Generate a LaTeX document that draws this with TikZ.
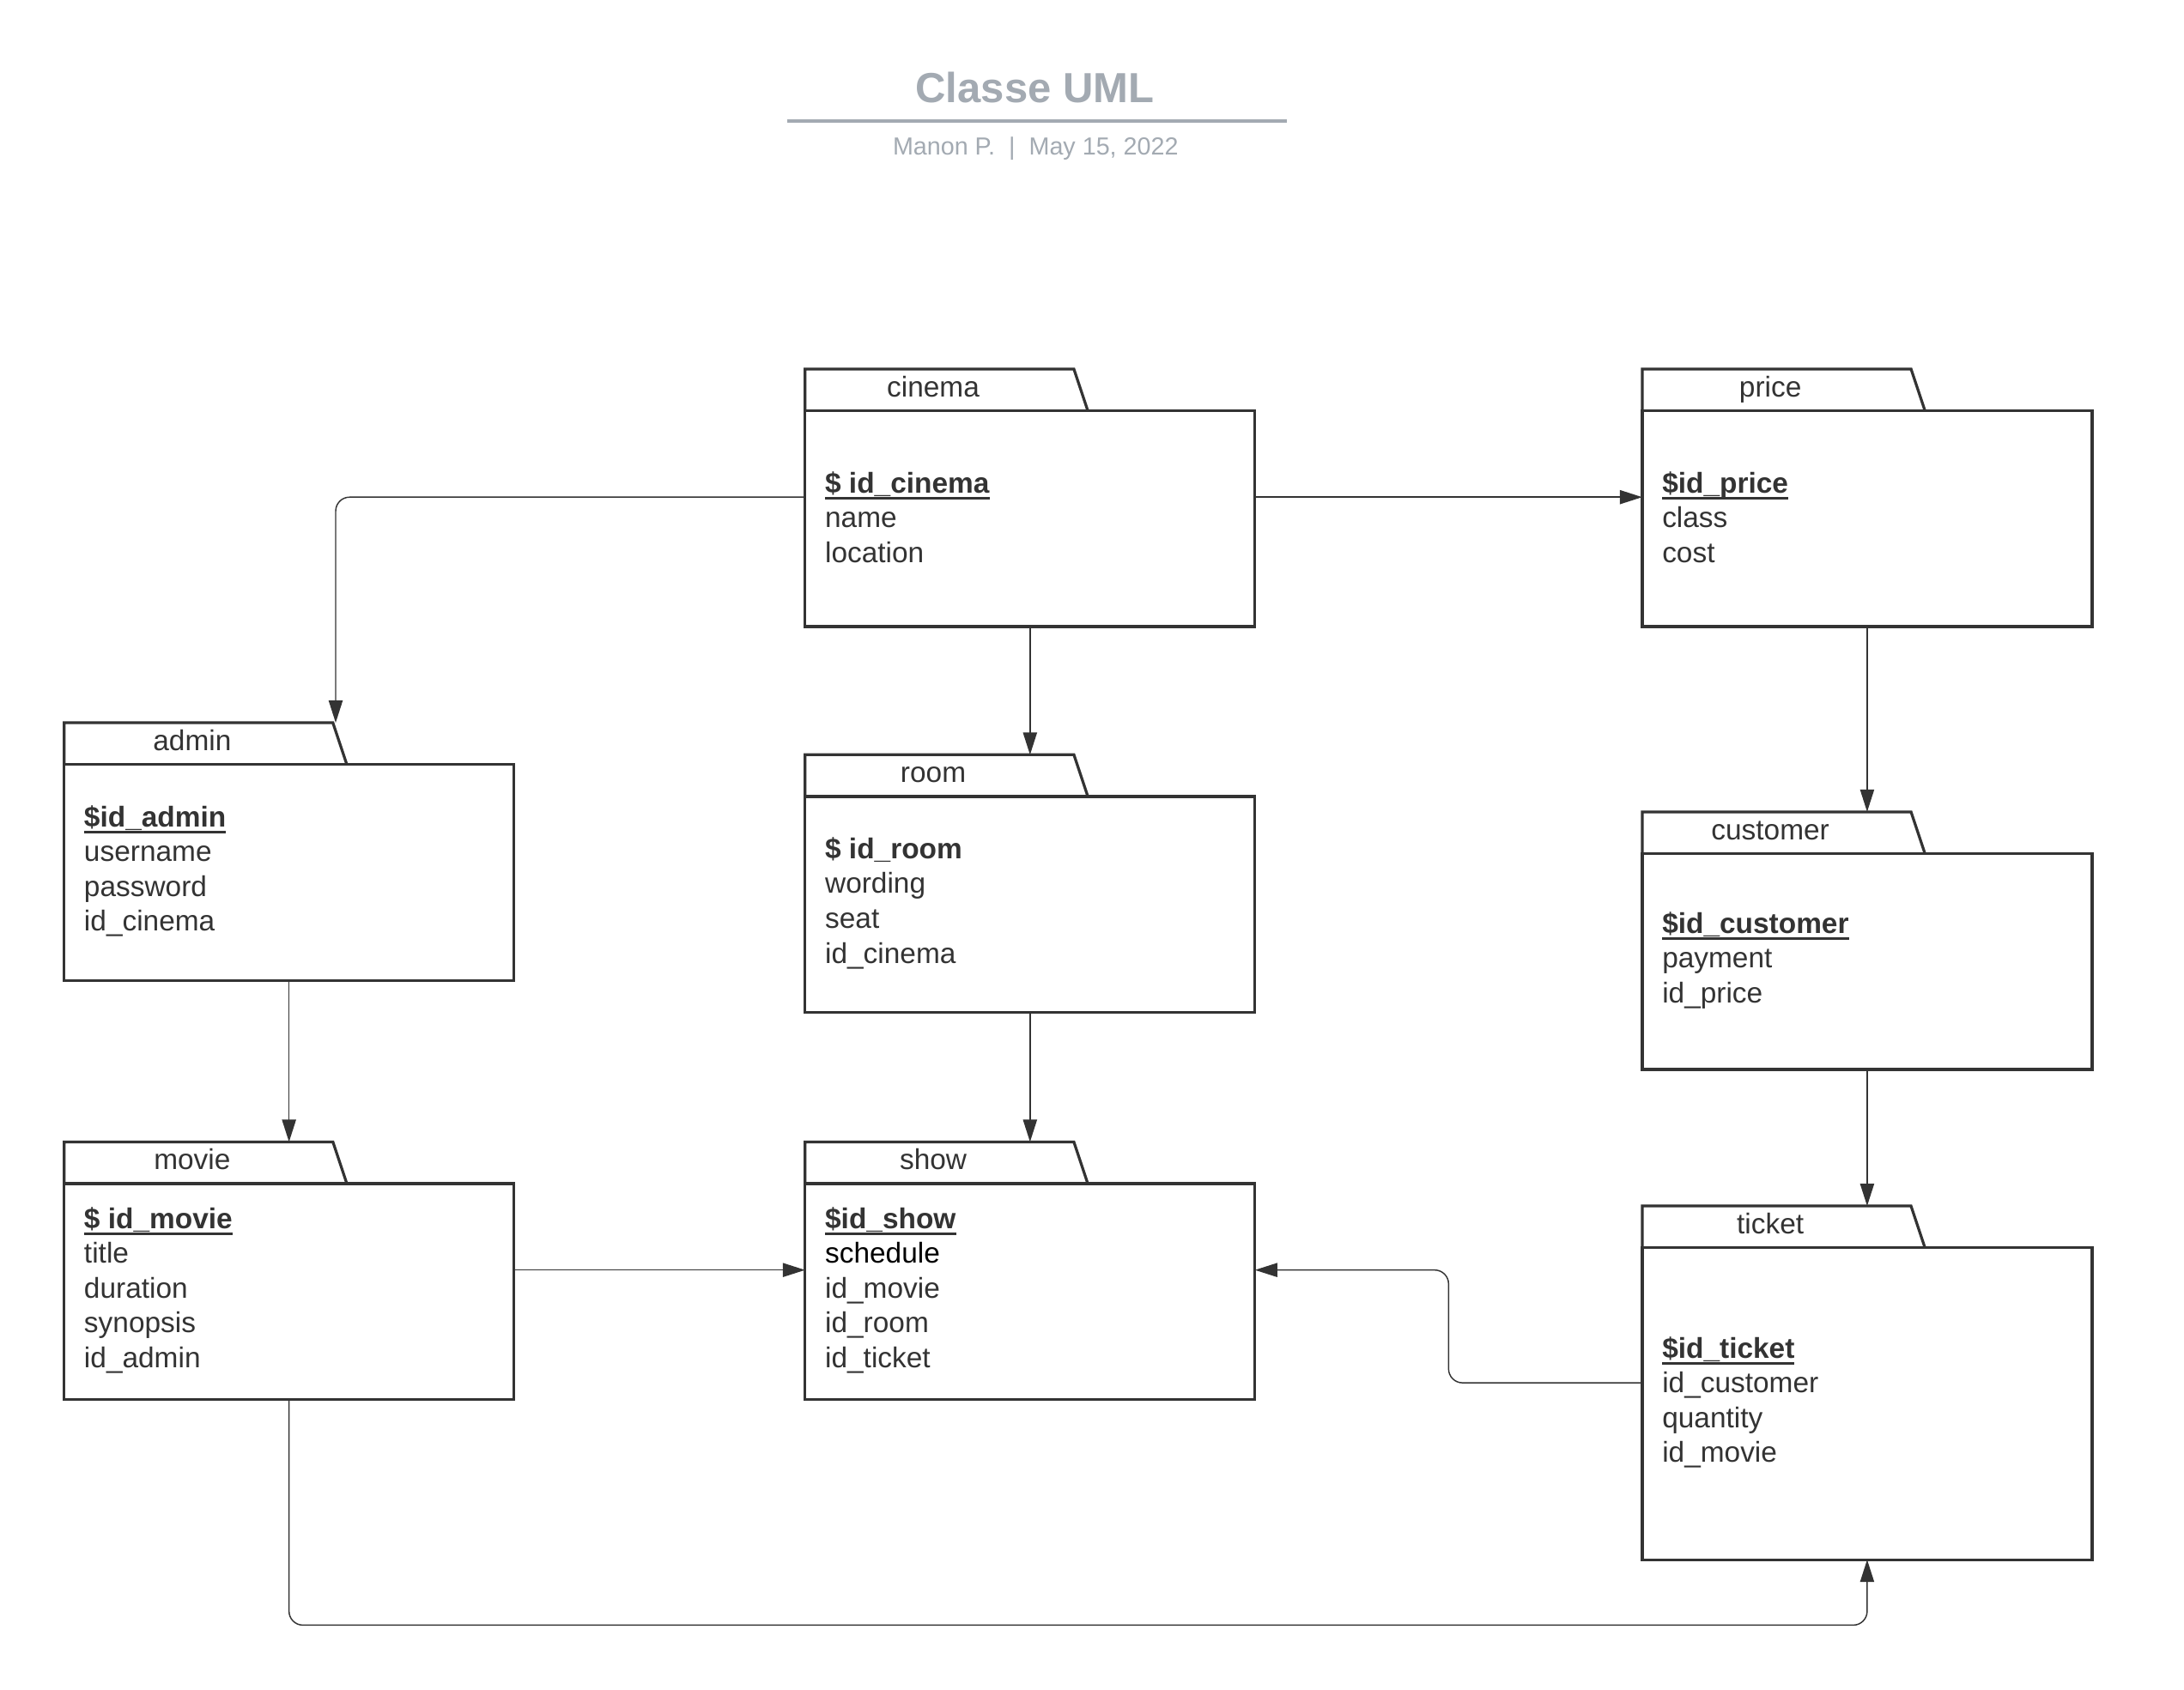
\documentclass[tikz,border=0pt]{standalone}
\usepackage{fontspec}
\setmainfont{Liberation Sans}
\usetikzlibrary{arrows.meta,calc}
\definecolor{ink}{HTML}{333333}
\definecolor{titlegray}{HTML}{A3AAB2}
\newlength\keywd
\newcommand\keyattr[1]{\settowidth\keywd{\textbf{#1}}\textbf{#1}\llap{\rule[-2.3pt]{\keywd}{0.9pt}}}
\newcommand\umlclass[6]{%
  \coordinate (#1-tab) at (#2,#3);
  \node[classbody, minimum height={#4*0.5pt}] (#1) at ({#2+161.5},{#3+30+#4/2}) {};
  \draw[classline] (#1.north west) -- (#2,#3) -- ({#2+193},#3) -- ({#2+203},{#3+30});
  \node[tablabel] (#1-label) at ({#2+92},{#3+20}) {#5};
  \node[attrs] (#1-attrs) at ({#2+14},{#3+30+#4/2-1}) {#6};
}
\tikzset{
  classbody/.style={rectangle, draw=ink, line width=1pt, minimum width=161.5pt, inner sep=0pt, outer sep=0pt},
  classline/.style={draw=ink, line width=1pt, line join=miter},
  tablabel/.style={anchor=base, text=ink, font=\fontsize{10.3pt}{12.5pt}\selectfont, inner sep=0pt},
  attrs/.style={anchor=west, align=left, text=ink, font=\fontsize{10.3pt}{12.5pt}\selectfont, inner sep=0pt},
  conn/.style={draw=ink, line width=0.45pt, -{Triangle[length=8pt,width=5pt]}, rounded corners=5pt},
}
\begin{document}
\begin{tikzpicture}[x=0.5pt,y=-0.5pt]
\fill[white] (0,0) rectangle (1568,1213.6);
\useasboundingbox (0,0) rectangle (1568,1213.6);
% title block
\node[font=\bfseries\fontsize{15.1pt}{18pt}\selectfont, text=titlegray, inner sep=0pt] (title) at (743,63) {Classe UML};
\draw[titlegray, line width=1.3pt] (565,87) -- (924,87);
\node[font=\fontsize{8.85pt}{10pt}\selectfont, text=titlegray, inner sep=0pt] (subtitle) at (743.5,106.5) {Manon P.\ \ |\ \ May 15, 2022};
% classes
\umlclass{cinema}{578}{265}{155}{cinema}{\keyattr{\$ id\_cinema}\\name\\location}
\umlclass{price}{1179}{265}{155}{price}{\keyattr{\$id\_price}\\class\\cost}
\umlclass{admin}{46}{519}{155}{admin}{\keyattr{\$id\_admin}\\username\\password\\id\_cinema}
\umlclass{room}{578}{542}{155}{room}{\textbf{\$ id\_room}\\wording\\seat\\id\_cinema}
\umlclass{customer}{1179}{583}{155}{customer}{\keyattr{\$id\_customer}\\payment\\id\_price}
\umlclass{movie}{46}{820}{155}{movie}{\keyattr{\$ id\_movie}\\title\\duration\\synopsis\\id\_admin}
\umlclass{show}{578}{820}{155}{show}{\keyattr{\$id\_show}\\{\color{black}schedule}\\id\_movie\\id\_room\\id\_ticket}
\umlclass{ticket}{1179}{866}{224}{ticket}{\keyattr{\$id\_ticket}\\id\_customer\\quantity\\id\_movie}
% connectors
\coordinate (admin-in) at (241,519);
\draw[conn] ([yshift=7.75pt]cinema.west) -| (admin-in);
\draw[conn] ([yshift=7.75pt]cinema.east) -- ([yshift=7.75pt]price.west);
\draw[conn] (cinema.south) -- (cinema.south |- room-tab);
\draw[conn] (price.south) -- (price.south |- customer-tab);
\draw[conn] (admin.south) -- (admin.south |- movie-tab);
\draw[conn] (room.south) -- (room.south |- show-tab);
\draw[conn] (customer.south) -- (customer.south |- ticket-tab);
\draw[conn] ([yshift=7.75pt]movie.east) -- ([yshift=7.75pt]show.west);
\draw[conn] ([yshift=7.5pt]ticket.west) -- ++(-139,0) |- ([yshift=7.75pt]show.east);
\draw[conn] (movie.south) -- ++(0,162) -| (ticket.south);
\end{tikzpicture}
\end{document}
